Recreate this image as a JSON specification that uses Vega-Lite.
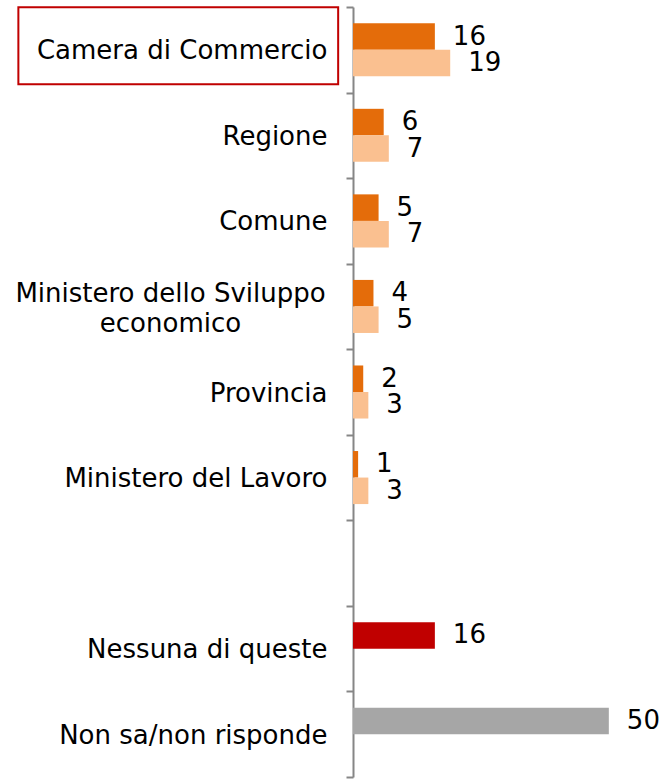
{
  "$schema": "https://vega.github.io/schema/vega-lite/v6.json",
  "width": 307,
  "height": 770,
  "autosize": "none",
  "padding": {"left": 353, "top": 7, "right": 3, "bottom": 2},
  "background": "white",
  "config": {"view": {"stroke": null}, "font": "DejaVu Sans"},
  "data": {
    "values": [
      {"ente": "Camera di Commercio", "serie": "a", "gruppo": "a", "valore": 16},
      {"ente": "Camera di Commercio", "serie": "b", "gruppo": "b", "valore": 19},
      {"ente": "Regione", "serie": "a", "gruppo": "a", "valore": 6},
      {"ente": "Regione", "serie": "b", "gruppo": "b", "valore": 7},
      {"ente": "Comune", "serie": "a", "gruppo": "a", "valore": 5},
      {"ente": "Comune", "serie": "b", "gruppo": "b", "valore": 7},
      {"ente": "Ministero dello Sviluppo economico", "serie": "a", "gruppo": "a", "valore": 4},
      {"ente": "Ministero dello Sviluppo economico", "serie": "b", "gruppo": "b", "valore": 5},
      {"ente": "Provincia", "serie": "a", "gruppo": "a", "valore": 2},
      {"ente": "Provincia", "serie": "b", "gruppo": "b", "valore": 3},
      {"ente": "Ministero del Lavoro", "serie": "a", "gruppo": "a", "valore": 1},
      {"ente": "Ministero del Lavoro", "serie": "b", "gruppo": "b", "valore": 3},
      {"ente": "Nessuna di queste", "serie": "a", "gruppo": "nessuna", "valore": 16},
      {"ente": "Non sa/non risponde", "serie": "a", "gruppo": "nonsa", "valore": 50}
    ]
  },
  "encoding": {
    "y": {
      "field": "ente",
      "type": "nominal",
      "sort": null,
      "scale": {
        "domain": ["Camera di Commercio", "Regione", "Comune", "Ministero dello Sviluppo economico", "Provincia", "Ministero del Lavoro", " ", "Nessuna di queste", "Non sa/non risponde"],
        "paddingInner": 0,
        "paddingOuter": 0
      },
      "axis": {
        "title": null,
        "domainColor": "#868686",
        "domainWidth": 2,
        "tickColor": "#868686",
        "tickWidth": 2,
        "tickSize": 7,
        "tickBand": "extent",
        "labelFont": "DejaVu Sans",
        "labelFontSize": 26,
        "labelColor": "#000000",
        "labelLimit": 400,
        "labelLineHeight": 30,
        "labelAlign": {"condition": {"test": "datum.value == 'Ministero dello Sviluppo economico'", "value": "center"}, "value": "right"},
        "labelPadding": {"condition": {"test": "datum.value == 'Ministero dello Sviluppo economico'", "value": 176}, "value": 19},
        "labelOffset": {"condition": {"test": "datum.value == 'Ministero dello Sviluppo economico'", "value": -13}, "value": 1},
        "labelExpr": "datum.value == 'Ministero dello Sviluppo economico' ? ['Ministero dello Sviluppo', 'economico'] : datum.value"
      }
    }
  },
  "layer": [
    {
      "mark": {"type": "bar"},
      "encoding": {
        "x": {"field": "valore", "type": "quantitative", "scale": {"domain": [0, 60]}, "axis": null},
        "yOffset": {"field": "serie", "type": "nominal", "scale": {"domain": ["a", "b"], "paddingInner": 0, "paddingOuter": 0.613}},
        "color": {
          "field": "gruppo",
          "type": "nominal",
          "scale": {"domain": ["a", "b", "nessuna", "nonsa"], "range": ["#E46C0A", "#FAC090", "#C00000", "#A6A6A6"]},
          "legend": null
        }
      }
    },
    {
      "mark": {"type": "text", "align": "left", "baseline": "middle", "dx": 18, "fontSize": 26, "font": "DejaVu Sans", "color": "#000000"},
      "encoding": {
        "x": {"field": "valore", "type": "quantitative"},
        "yOffset": {"field": "serie", "type": "nominal"},
        "text": {"field": "valore", "type": "quantitative"}
      }
    },
    {
      "data": {"values": [{}]},
      "mark": {"type": "rect", "filled": false, "stroke": "#C00000", "strokeWidth": 2, "clip": false, "height": {"band": 0.9}, "yOffset": -4},
      "encoding": {
        "y": {"datum": "Camera di Commercio", "type": "nominal"},
        "x": {"datum": -65.4, "type": "quantitative"},
        "x2": {"datum": -2.9}
      }
    }
  ]
}
